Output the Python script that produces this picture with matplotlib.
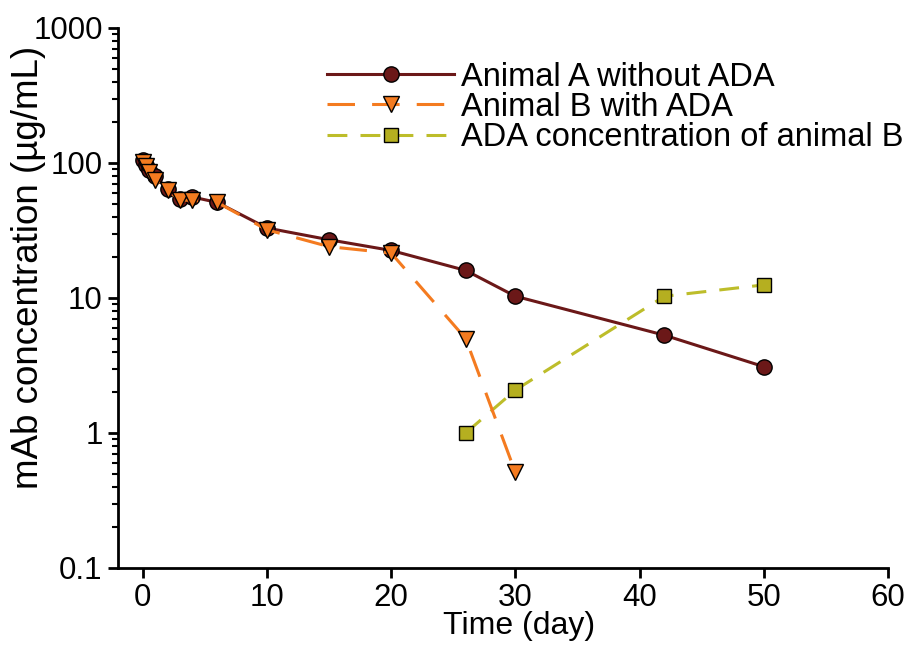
import numpy as np
import matplotlib.pyplot as plt

plt.rcParams['font.family'] = ['Liberation Sans', 'DejaVu Sans']

# Animal A without ADA
t_a = [0, 0.25, 0.5, 1, 2, 3, 4, 6, 10, 15, 20, 26, 30, 42, 50]
conc_a = [105, 96, 88, 80, 64, 54, 56, 51, 33, 27, 22.5, 16, 10.3, 5.3, 3.1]

# Animal B with ADA
t_b = [0, 0.25, 0.5, 1, 2, 3, 4, 6, 10, 15, 20, 26, 30]
conc_b = [102, 95, 86, 75, 63, 53, 53, 51, 32, 24, 21.5, 5.0, 0.51]

# ADA concentration of animal B
t_ada = [26, 30, 42, 50]
conc_ada = [1.0, 2.08, 10.3, 12.5]

fig = plt.figure(figsize=(9.14, 6.45), dpi=100)
ax = fig.add_axes([0.129, 0.1194, 0.8426, 0.8372])

ax.plot(t_a, conc_a, color='#6B1818', lw=2.2, marker='o', ms=11,
        mfc='#6B1818', mec='black', mew=1.0, label='Animal A without ADA', zorder=3)
ax.plot(t_b, conc_b, color='#F47B20', lw=2.2, ls=(0, (9, 5.6)), marker='v', ms=12,
        mfc='#F47B20', mec='black', mew=1.0, label='Animal B with ADA', zorder=4)
ax.plot(t_ada, conc_ada, color='#BDBD2A', lw=2.2, ls=(0, (6.5, 4.3)), marker='s', ms=10.5,
        mfc='#B5AF20', mec='black', mew=1.0, label='ADA concentration of animal B', zorder=3)

ax.set_yscale('log')
ax.set_ylim(0.1, 1000)
ax.set_xlim(-2, 60)
ax.set_xticks([0, 10, 20, 30, 40, 50, 60])
ax.set_yticks([0.1, 1, 10, 100, 1000])
ax.set_yticklabels(['0.1', '1', '10', '100', '1000'])

for s in ['top', 'right']:
    ax.spines[s].set_visible(False)
for s in ['left', 'bottom']:
    ax.spines[s].set_linewidth(2)

ax.tick_params(axis='both', which='major', direction='out', length=7, width=2,
               labelsize=22.5, pad=4)
ax.tick_params(axis='y', which='minor', direction='out', length=4, width=1.5)

ax.set_xlabel('Time (day)', fontsize=23, va='top')
ax.xaxis.set_label_coords(0.521, -0.079)
ax.set_ylabel('mAb concentration (µg/mL)', fontsize=26.5)
ax.yaxis.set_label_coords(-0.094, 0.557)

ax.legend(loc='upper left', bbox_to_anchor=(0.2545, 0.962), frameon=False, fontsize=23.5,
          handlelength=3.9, handletextpad=0.2, labelspacing=-0.02, borderaxespad=0)

fig.savefig('out.png', dpi=100)
